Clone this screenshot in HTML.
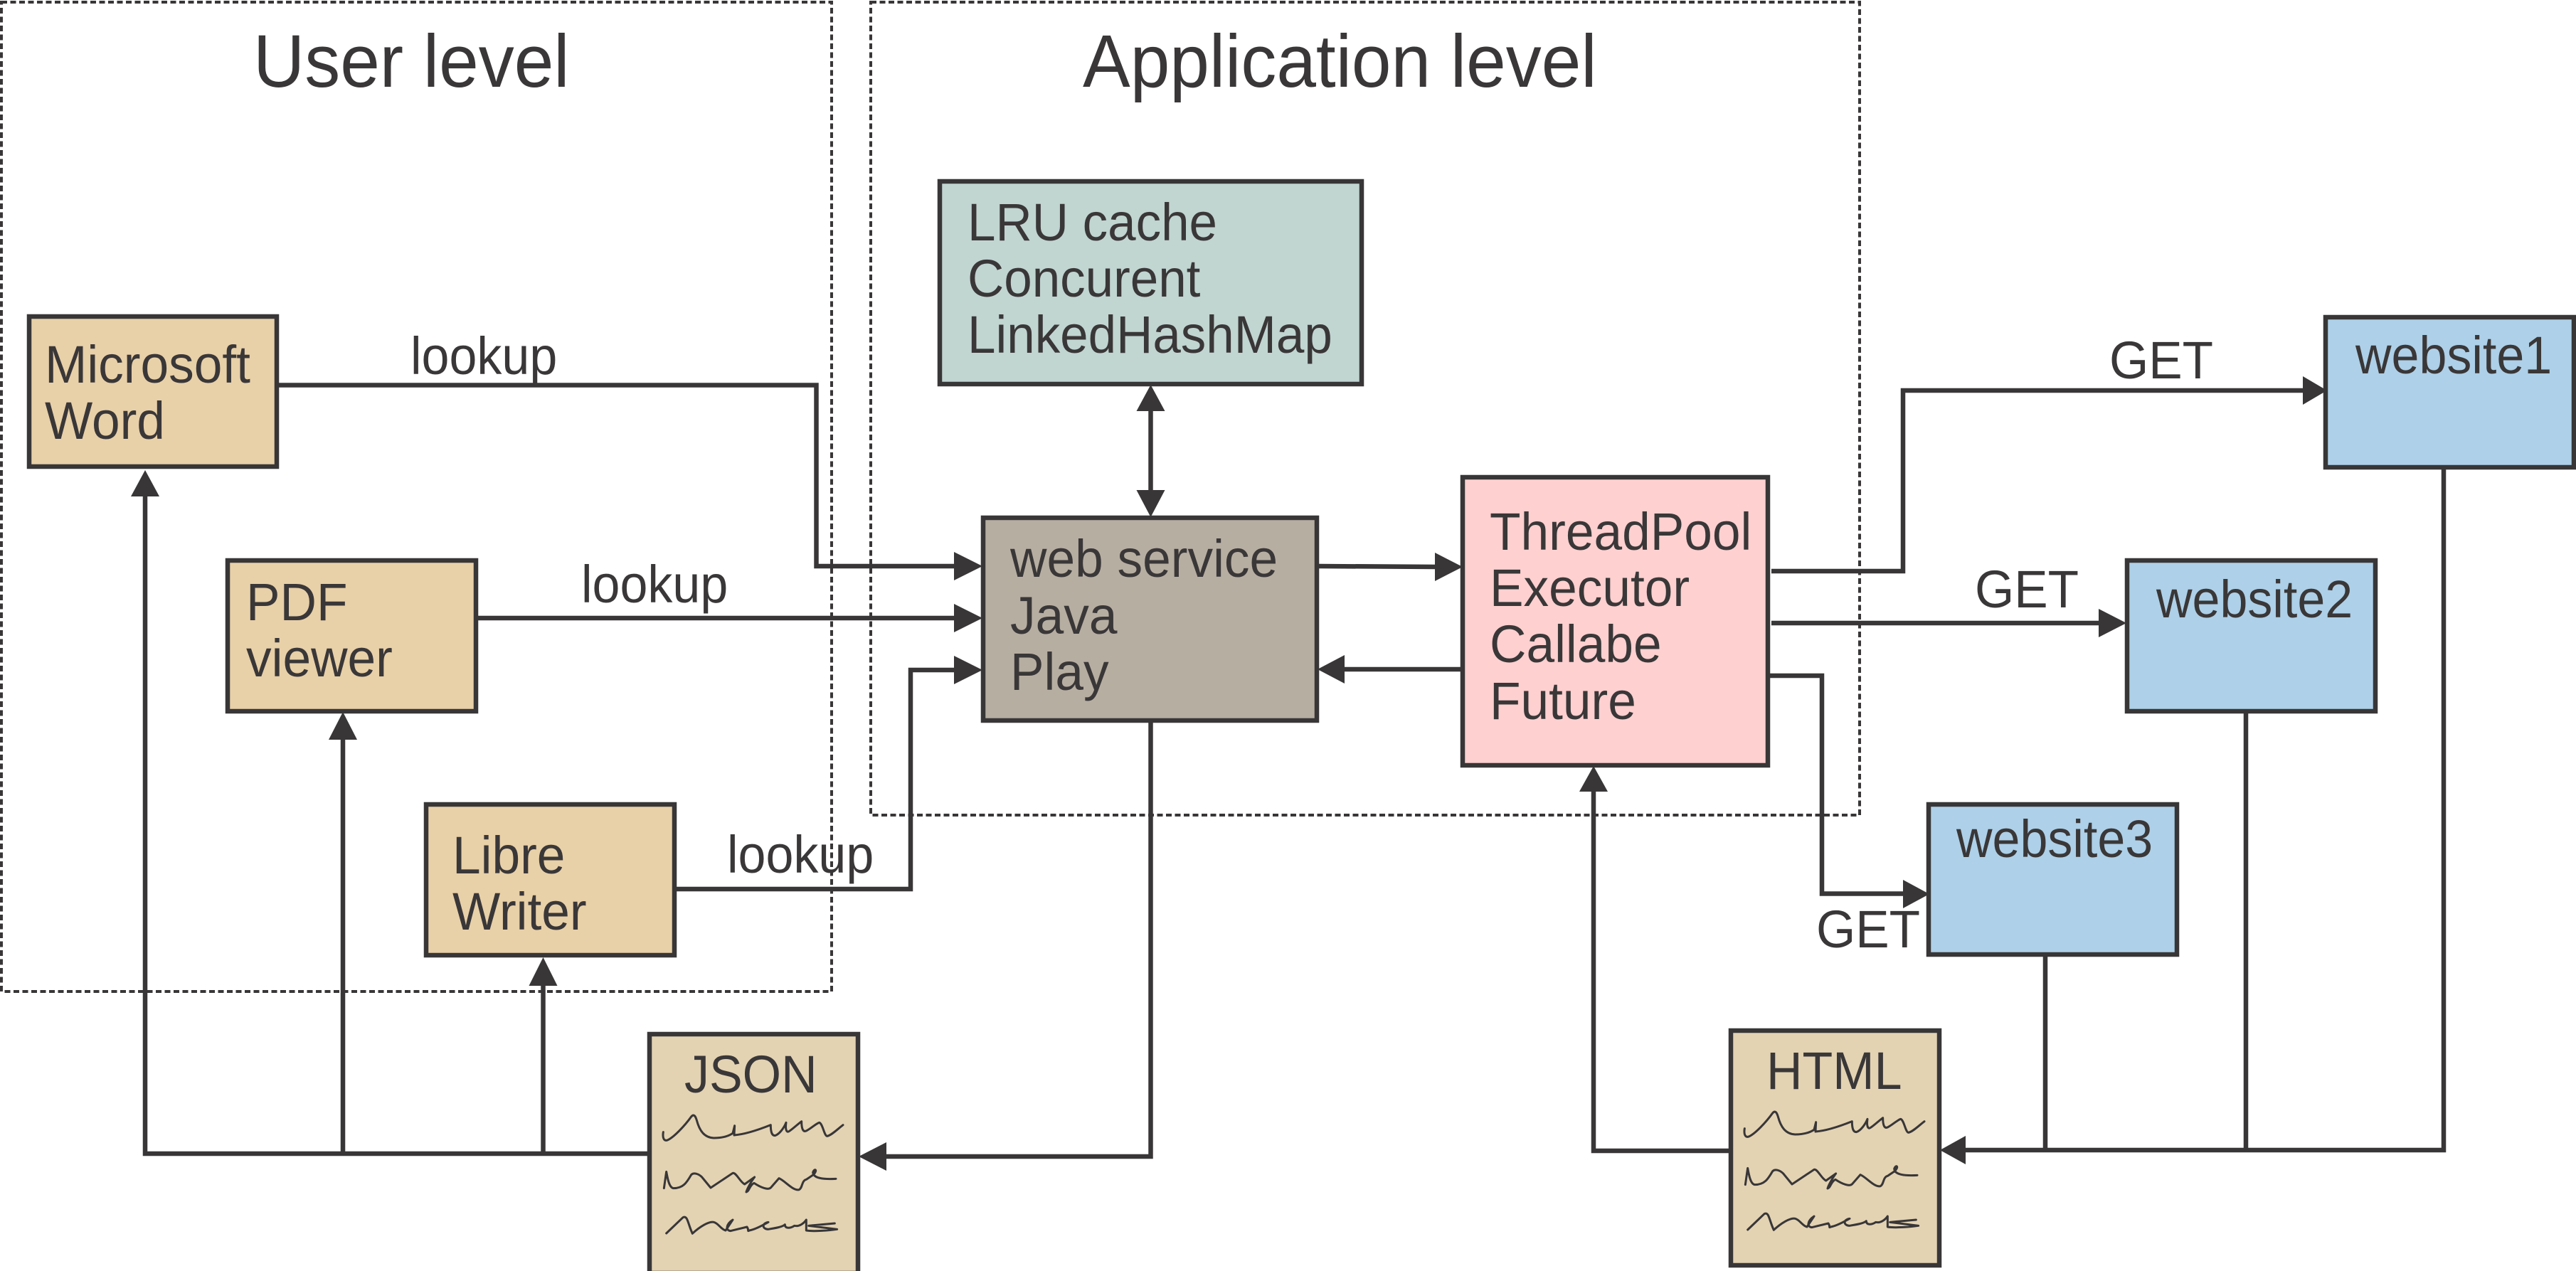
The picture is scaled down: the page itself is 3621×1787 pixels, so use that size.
<!DOCTYPE html>
<html><head><meta charset="utf-8"><style>
html,body{margin:0;padding:0;background:#fff}
svg{display:block}
text{font-family:"Liberation Sans",sans-serif;font-size:70px;fill:#3a3738}
.t{font-size:100px}
.b{stroke:#383637;stroke-width:6.5}
.l{fill:none;stroke:#383637;stroke-width:6.5;stroke-linejoin:miter}
.d{fill:none;stroke:#383637;stroke-width:4;stroke-dasharray:8 4.5}
.a{fill:#383637}
.s{fill:none;stroke:#383637;stroke-width:9;stroke-linecap:round;stroke-linejoin:round}
</style></head><body>
<svg width="3621" height="1787" viewBox="0 0 3621 1787" xmlns="http://www.w3.org/2000/svg">
<rect width="3621" height="1787" fill="#fff"/>
<rect class="d" x="2" y="3" width="1167" height="1391"/>
<rect class="d" x="1224" y="3" width="1390" height="1143"/>

<rect class="b" x="41" y="445" width="348" height="211" fill="#e8d0a8"/>
<rect class="b" x="320" y="788" width="349" height="212" fill="#e8d0a8"/>
<rect class="b" x="599" y="1131" width="349" height="212" fill="#e8d0a8"/>
<rect class="b" x="1321" y="255" width="593" height="285" fill="#c1d5d1"/>
<rect class="b" x="1382" y="728" width="469" height="285" fill="#b7aea2"/>
<rect class="b" x="2056" y="671" width="429" height="405" fill="#fed0d0"/>
<rect class="b" x="3269" y="446" width="349" height="211" fill="#aed0e8"/>
<rect class="b" x="2990" y="788" width="349" height="212" fill="#aed0e8"/>
<rect class="b" x="2711" y="1131" width="349" height="211" fill="#aed0e8"/>
<rect class="b" x="913" y="1454" width="293" height="336" fill="#e3d3b3"/>
<rect class="b" x="2433" y="1449" width="293" height="330" fill="#e3d3b3"/>

<!-- connectors -->
<path class="l" d="M392 541.5H1147.5V796H1345"/>
<path class="l" d="M672 869H1345"/>
<path class="l" d="M951 1250H1280V942H1345"/>
<path class="l" d="M1617.5 578V692"/>
<path class="l" d="M1854 796L2020 797"/>
<path class="l" d="M2053 941H1888"/>
<path class="l" d="M1617.5 1016V1626H1244"/>
<path class="l" d="M910 1622H204V696"/>
<path class="l" d="M482 1622V1038"/>
<path class="l" d="M763.5 1622V1384"/>
<path class="l" d="M2430 1618H2240V1111"/>
<path class="l" d="M2490 803H2675V549H3240"/>
<path class="l" d="M2490 876H2953"/>
<path class="l" d="M2488 950H2561V1256.5H2678"/>
<path class="l" d="M3435 660V1617H2761"/>
<path class="l" d="M3157 1003V1617"/>
<path class="l" d="M2875 1345V1617"/>

<!-- arrowheads -->
<polygon class="a" points="1381,796 1341,776 1341,816"/>
<polygon class="a" points="1381,869 1341,849 1341,889"/>
<polygon class="a" points="1381,942 1341,922 1341,962"/>
<polygon class="a" points="1617.5,541 1597.5,578 1637.5,578"/>
<polygon class="a" points="1617.5,727 1597.5,689 1637.5,689"/>
<polygon class="a" points="2056,797 2017,777 2017,817"/>
<polygon class="a" points="1852,941 1890,921 1890,961"/>
<polygon class="a" points="1207,1626 1246,1606 1246,1646"/>
<polygon class="a" points="204,661 184,698 224,698"/>
<polygon class="a" points="482,1001 462,1040 502,1040"/>
<polygon class="a" points="763.5,1346 743.5,1386 783.5,1386"/>
<polygon class="a" points="2240,1077 2220,1113 2260,1113"/>
<polygon class="a" points="3271,549 3237,529 3237,569"/>
<polygon class="a" points="2989,876 2950,856 2950,896"/>
<polygon class="a" points="2712,1257 2675,1237 2675,1277"/>
<polygon class="a" points="2727,1617 2763,1597 2763,1637"/>

<!-- scribbles JSON -->
<g transform="translate(850,1400) scale(.33333)">
<path class="s" d="M247 575C243 600 250 612 262 610C290 600 340 545 365 510C375 498 382 505 388 525C400 570 420 598 460 600C500 600 525 590 540 580L548 548L546 588C590 585 650 565 700 545C700 575 705 590 718 590C735 585 755 560 765 535C760 570 770 580 780 570C795 560 810 545 830 530C830 565 838 575 850 570C870 560 890 540 905 535C920 540 925 590 938 592C955 590 985 560 1005 545"/>
<path class="s" d="M250 812L260 742C265 770 272 810 290 812C330 812 345 790 365 755C375 745 395 750 410 765L447 810L540 748C555 745 570 785 590 795L632 765C620 780 600 815 597 828C610 825 610 800 630 790C660 810 690 820 700 810L735 770C760 780 795 825 820 818C835 810 830 780 850 775L880 755C900 735 885 725 878 745C880 770 920 775 975 772"/>
<path class="s" d="M260 1002L330 935C350 925 350 960 370 1003C400 975 440 950 460 955C480 960 490 985 510 990L540 945C510 965 510 990 530 992L600 975C610 990 600 995 610 990C640 985 680 960 690 955C660 960 665 985 690 985C720 980 750 975 760 965C760 985 785 980 800 970C820 975 840 960 850 945L850 990C880 995 950 990 980 985L860 970L970 960"/>
</g>
<!-- scribbles HTML -->
<g transform="translate(2370,1395) scale(.33333)">
<path class="s" d="M247 575C243 600 250 612 262 610C290 600 340 545 365 510C375 498 382 505 388 525C400 570 420 598 460 600C500 600 525 590 540 580L548 548L546 588C590 585 650 565 700 545C700 575 705 590 718 590C735 585 755 560 765 535C760 570 770 580 780 570C795 560 810 545 830 530C830 565 838 575 850 570C870 560 890 540 905 535C920 540 925 590 938 592C955 590 985 560 1005 545"/>
<path class="s" d="M250 812L260 742C265 770 272 810 290 812C330 812 345 790 365 755C375 745 395 750 410 765L447 810L540 748C555 745 570 785 590 795L632 765C620 780 600 815 597 828C610 825 610 800 630 790C660 810 690 820 700 810L735 770C760 780 795 825 820 818C835 810 830 780 850 775L880 755C900 735 885 725 878 745C880 770 920 775 975 772"/>
<path class="s" d="M260 1002L330 935C350 925 350 960 370 1003C400 975 440 950 460 955C480 960 490 985 510 990L540 945C510 965 510 990 530 992L600 975C610 990 600 995 610 990C640 985 680 960 690 955C660 960 665 985 690 985C720 980 750 975 760 965C760 985 785 980 800 970C820 975 840 960 850 945L850 990C880 995 950 990 980 985L860 970L970 960"/>
</g>

<!-- labels -->
<text class="t" transform="translate(356,122) scale(1,1.05)">User level</text>
<text class="t" transform="translate(1522,122) scale(1,1.05)">Application level</text>
<text transform="translate(63,538) scale(1.018,1.055)">Microsoft</text>
<text transform="translate(63,617) scale(1.018,1.055)">Word</text>
<text transform="translate(346,872) scale(1.018,1.055)">PDF</text>
<text transform="translate(346,951) scale(1.018,1.055)">viewer</text>
<text transform="translate(636,1228) scale(1.018,1.055)">Libre</text>
<text transform="translate(636,1307) scale(1.018,1.055)">Writer</text>
<text transform="translate(577,526) scale(1,1.055)">lookup</text>
<text transform="translate(817,847) scale(1,1.055)">lookup</text>
<text transform="translate(1022,1227) scale(1,1.055)">lookup</text>
<text transform="translate(1360,338) scale(1.014,1.055)">LRU cache</text>
<text transform="translate(1360,417) scale(1.014,1.055)">Concurent</text>
<text transform="translate(1360,496) scale(1.014,1.055)">LinkedHashMap</text>
<text transform="translate(1420,811) scale(1.018,1.055)">web service</text>
<text transform="translate(1420,891) scale(1.018,1.055)">Java</text>
<text transform="translate(1420,970) scale(1.018,1.055)">Play</text>
<text transform="translate(2094,773) scale(1.018,1.055)">ThreadPool</text>
<text transform="translate(2094,852) scale(1.018,1.055)">Executor</text>
<text transform="translate(2094,931) scale(1.018,1.055)">Callabe</text>
<text transform="translate(2094,1011) scale(1.018,1.055)">Future</text>
<text transform="translate(3311,525) scale(1,1.055)">website1</text>
<text transform="translate(3031,868) scale(1,1.055)">website2</text>
<text transform="translate(2750,1205) scale(1,1.055)">website3</text>
<text transform="translate(2965,532) scale(1.015,1.055)">GET</text>
<text transform="translate(2776,854) scale(1.015,1.055)">GET</text>
<text transform="translate(2553,1332) scale(1.015,1.055)">GET</text>
<text transform="translate(962,1536) scale(1,1.055)">JSON</text>
<text transform="translate(2483,1531) scale(1,1.055)">HTML</text>
</svg>
</body></html>
